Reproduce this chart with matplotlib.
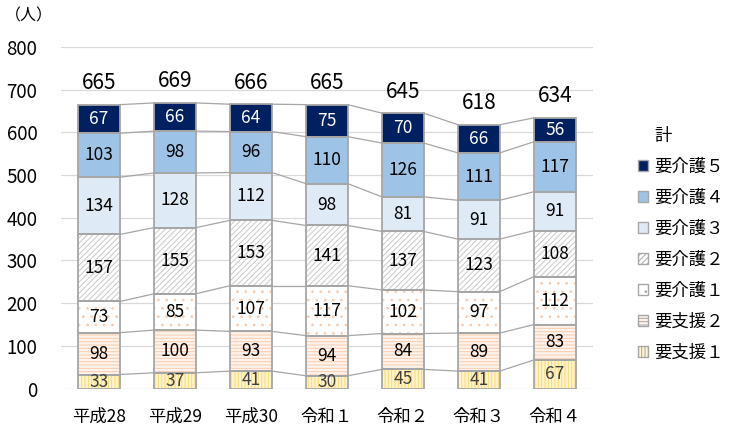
import matplotlib.pyplot as plt
from matplotlib.patches import Patch

plt.rcParams["font.family"] = ["Noto Sans CJK JP", "DejaVu Sans"]
plt.rcParams["hatch.linewidth"] = 0.7

# === DATA ===
years = ["平成28", "平成29", "平成30", "令和１", "令和２", "令和３", "令和４"]
shien1 = [33, 37, 41, 30, 45, 41, 67]
shien2 = [98, 100, 93, 94, 84, 89, 83]
kaigo1 = [73, 85, 107, 117, 102, 97, 112]
kaigo2 = [157, 155, 153, 141, 137, 123, 108]
kaigo3 = [134, 128, 112, 98, 81, 91, 91]
kaigo4 = [103, 98, 96, 110, 126, 111, 117]
kaigo5 = [67, 66, 64, 75, 70, 66, 56]
totals = [665, 669, 666, 665, 645, 618, 634]

series = [
    ("要支援１", shien1),
    ("要支援２", shien2),
    ("要介護１", kaigo1),
    ("要介護２", kaigo2),
    ("要介護３", kaigo3),
    ("要介護４", kaigo4),
    ("要介護５", kaigo5),
]

# face colour, hatch, hatch colour, text colour
styles = {
    "要支援１": ("#FFF4D2", "|||||", "#FFD966", "#404040"),
    "要支援２": ("#FEF3EC", "-----", "#F8CBAD", "black"),
    "要介護１": ("white", "..", "#F8CBAD", "black"),
    "要介護２": ("white", "//////", "#C8C8C8", "black"),
    "要介護３": ("#DEEBF7", "", "#DEEBF7", "black"),
    "要介護４": ("#9DC3E6", "", "#9DC3E6", "black"),
    "要介護５": ("#002060", "", "#002060", "white"),
}

fig = plt.figure(figsize=(7.3, 4.26), dpi=100)
ax = fig.add_axes([0.0836, 0.0878, 0.7284, 0.8019])

x = list(range(len(years)))
width = 0.55
edge = "#A6A6A6"
bottom = [0] * len(years)

for name, vals in series:
    face, hatch, hcol, tcol = styles[name]
    ax.bar(x, vals, width, bottom=bottom, color=face, hatch=hatch,
           edgecolor=hcol, linewidth=0, zorder=2)
    ax.bar(x, vals, width, bottom=bottom, fill=False,
           edgecolor=edge, linewidth=1.3, zorder=3)
    for i, v in enumerate(vals):
        ax.text(x[i], bottom[i] + v / 2, str(v), ha="center", va="center",
                fontsize=12.5, color=tcol, zorder=4)
    new_bottom = [b + v for b, v in zip(bottom, vals)]
    # series lines between bars
    for i in range(len(years) - 1):
        ax.plot([x[i] + width / 2, x[i + 1] - width / 2],
                [new_bottom[i], new_bottom[i + 1]],
                color="#A6A6A6", linewidth=0.9, zorder=1.5)
    bottom = new_bottom

for i, t in enumerate(totals):
    ax.annotate(str(t), (x[i], t), xytext=(0, 15.5), textcoords="offset points",
                ha="center", va="center", fontsize=15)

ax.set_xlim(-0.5, len(years) - 0.5)
ax.set_ylim(0, 800)
ax.set_yticks(range(0, 801, 100))
ax.grid(axis="y", color="#D9D9D9", linewidth=0.9, zorder=0)
ax.set_axisbelow(True)
for s in ax.spines.values():
    s.set_visible(False)
ax.tick_params(axis="both", length=0)
ax.tick_params(axis="y", labelsize=13.5, pad=17)
ax.set_xticks(x)
ax.set_xticklabels(years, fontsize=12.5)
ax.tick_params(axis="x", pad=14)

fig.text(0.007, 0.963, "（人）", fontsize=11.5, va="center", ha="left")

handles = [Patch(facecolor="none", edgecolor="none")]
labels = ["計"]
for name, vals in reversed(series):
    face, hatch, hcol, tcol = styles[name]
    handles.append(Patch(facecolor=face, hatch=hatch, edgecolor=hcol,
                         linewidth=0))
    labels.append(name)

leg = fig.legend(handles, labels, loc="upper left", bbox_to_anchor=(0.862, 0.723),
                 frameon=False, fontsize=12.5, handlelength=0.6, handleheight=0.6,
                 handletextpad=0.35, labelspacing=0.75, borderpad=0)
for p in leg.get_patches()[1:]:
    p.set_edgecolor(edge)
    p.set_linewidth(1.0)

fig.savefig("out.png", dpi=100)
